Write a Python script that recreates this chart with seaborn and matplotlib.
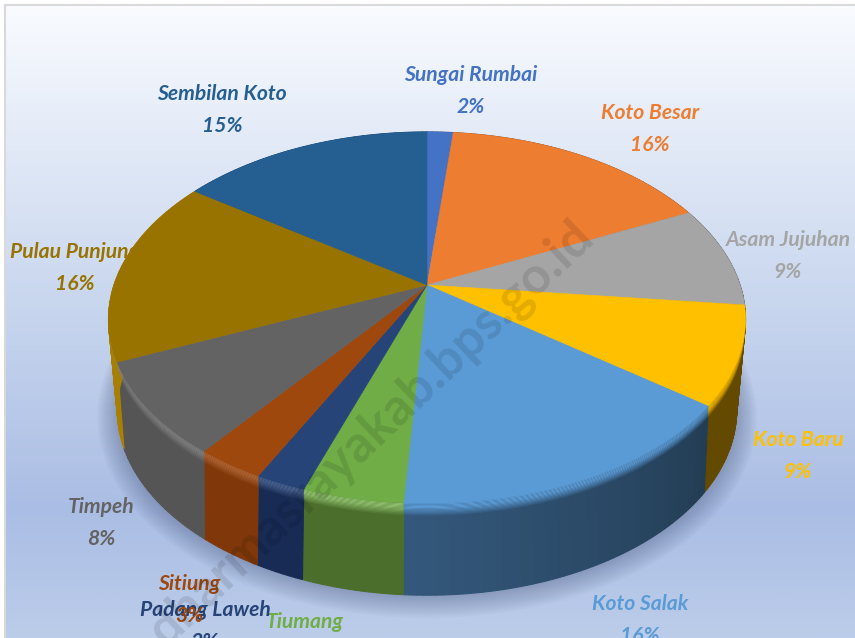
import numpy as np
import matplotlib
matplotlib.use("Agg")
import matplotlib.pyplot as plt
import matplotlib.colors as mcolors
import seaborn as sns

names = ["Sungai Rumbai", "Koto Besar", "Asam Jujuhan", "Koto Baru", "Koto Salak", "Tiumang",
         "Padang Laweh", "Sitiung", "Timpeh", "Pulau Punjung", "Sembilan Koto"]
shares = [1.6, 16.4, 8.7, 8.4, 15.9, 4.4, 2.2, 3.0, 8.0, 16.0, 15.4]
pct_labels = ["2%", "16%", "9%", "9%", "16%", "5%", "2%", "3%", "8%", "16%", "15%"]

top_colors = ["#4472C4", "#ED7D31", "#A5A5A5", "#FFC000", "#5B9BD5", "#70AD47",
              "#264478", "#9E480E", "#636363", "#997300", "#255E91"]
wall_right = ["#2c4a80", "#8a481c", "#4f4f4f", "#634a00", "#233d54", "#4b6e2c",
              "#172b54", "#80380a", "#555555", "#a87f00", "#1b456b"]
wall_left = ["#2c4a80", "#8a481c", "#4f4f4f", "#634a00", "#34587c", "#4b6e2c",
             "#172b54", "#80380a", "#555555", "#a87f00", "#1b456b"]
highlight = [0, 0, 0, 0, 0, 0.2, 0.15, 0.15, 0.18, 0.12, 0]

label_x = [471, 650, 788, 798, 640, 305, 205, 189, 101, 75, 222]
label_y = [75, 113, 240, 440, 604, 622, 610, 584, 507, 252, 94]

bg_stops = ["#f9fbff", "#c8d6ee", "#aabde4", "#bccdea"]

sns.set_theme(style="white")
plt.rcParams["font.family"] = ["Lato", "DejaVu Sans"]
palette = sns.color_palette(top_colors)

fig = plt.figure(figsize=(8.55, 6.38), dpi=100)
ax = fig.add_axes([0, 0, 1, 1])

# background panel
cmap = mcolors.LinearSegmentedColormap.from_list("bg", list(zip([0, 0.47, 0.8, 1], bg_stops)))
ax.imshow(np.linspace(0, 1, 300).reshape(-1, 1), cmap=cmap, aspect="auto", extent=(5, 855, 638, 5), zorder=0)
ax.plot([5, 5, 855], [638, 5, 5], color="#d9d9d9", lw=1.5, zorder=1)
ax.set_xlim(0, 855)
ax.set_ylim(638, 0)
ax.axis("off")

# perspective disc: far edge at the top, near edge at the bottom
cx, k, a, b = 427, 0.201, 314, 183.8
top_y0, bottom_y0, bottom_scale = 285, 373, 0.966


def rim(theta, scale, y0):
    w = 1 + k * np.cos(theta)
    return cx + scale * a * np.sin(theta) / w, y0 - scale * b * np.cos(theta) / w


def face_rim(theta):
    # the flat face stops a little short of the rim on the near side, where the bevel rolls over
    s = 1 - 0.05 * ((1 - np.cos(theta)) / 2) ** 4
    return rim(theta, s, top_y0)


edges = np.radians(np.concatenate([[0], np.cumsum(shares)]) * 360 / np.sum(shares))

# soft shadow under the pie
all_t = np.linspace(0, 2 * np.pi, 240)
for grow in np.linspace(20, 2, 10):
    sx, sy = rim(all_t, bottom_scale, bottom_y0 + grow * 0.3)
    sx = cx + (sx - cx) * (1 + grow / 310)
    sy = 410 + (sy - 410) * (1 + grow / 230)
    ax.fill(sx, sy, color="#4a5a80", alpha=0.045, lw=0, zorder=2)

# labels sit behind the pie (Pulau Punjung is partly hidden)
for i, name in enumerate(names):
    ax.text(label_x[i], label_y[i], name, color=palette[i], fontsize=15.2, fontweight="bold",
            fontstyle="italic", ha="center", va="center", zorder=3)
    ax.text(label_x[i], label_y[i] + 32, pct_labels[i], color=palette[i], fontsize=15.2, fontweight="bold",
            fontstyle="italic", ha="center", va="center", zorder=3)

# walls
for i in range(len(shares)):
    cols = np.linspace(edges[i], edges[i + 1], max(3, int(np.degrees(edges[i + 1] - edges[i])) + 1))
    c0 = np.array(mcolors.to_rgb(wall_right[i]))
    c1 = np.array(mcolors.to_rgb(wall_left[i]))
    for j in range(len(cols) - 1):
        t = np.linspace(cols[j], cols[j + 1], 3)
        tx, ty = face_rim(t)
        bx, by = rim(t, bottom_scale, bottom_y0)
        col = c0 + (c1 - c0) * j / max(1, len(cols) - 2)
        ax.fill(np.r_[tx, bx[::-1]], np.r_[ty, by[::-1]], facecolor=col, edgecolor=col, lw=0.8, zorder=4)

    # bevel along the top of the wall
    t = np.linspace(edges[i], edges[i + 1], 40)
    tx, ty = face_rim(t)
    bx, by = rim(t, bottom_scale, bottom_y0)
    base = np.array(mcolors.to_rgb(top_colors[i]))
    lit = base + (1 - base) * highlight[i]
    bands = np.linspace(0, 0.13, 11)
    for j in range(10):
        x0, x1 = tx + (bx - tx) * bands[j], tx + (bx - tx) * bands[j + 1]
        y0, y1 = ty + (by - ty) * bands[j], ty + (by - ty) * bands[j + 1]
        ax.fill(np.r_[x0, x1[::-1]], np.r_[y0, y1[::-1]], color=lit, alpha=min(1, 1.4 * (1 - j / 10)), lw=0, zorder=5)

# top face
for i in range(len(shares)):
    t = np.linspace(edges[i], edges[i + 1], 80)
    tx, ty = face_rim(t)
    ax.fill(np.r_[cx, tx], np.r_[top_y0, ty], color=palette[i], lw=0.4, zorder=6)

# watermark
ax.text(586, 230, "dharmasrayakab.bps.go.id", color="black", alpha=0.11, fontsize=37, fontweight="bold",
        rotation=43.5, rotation_mode="anchor", ha="right", va="center", zorder=7)

fig.savefig("out.png", dpi=100)
